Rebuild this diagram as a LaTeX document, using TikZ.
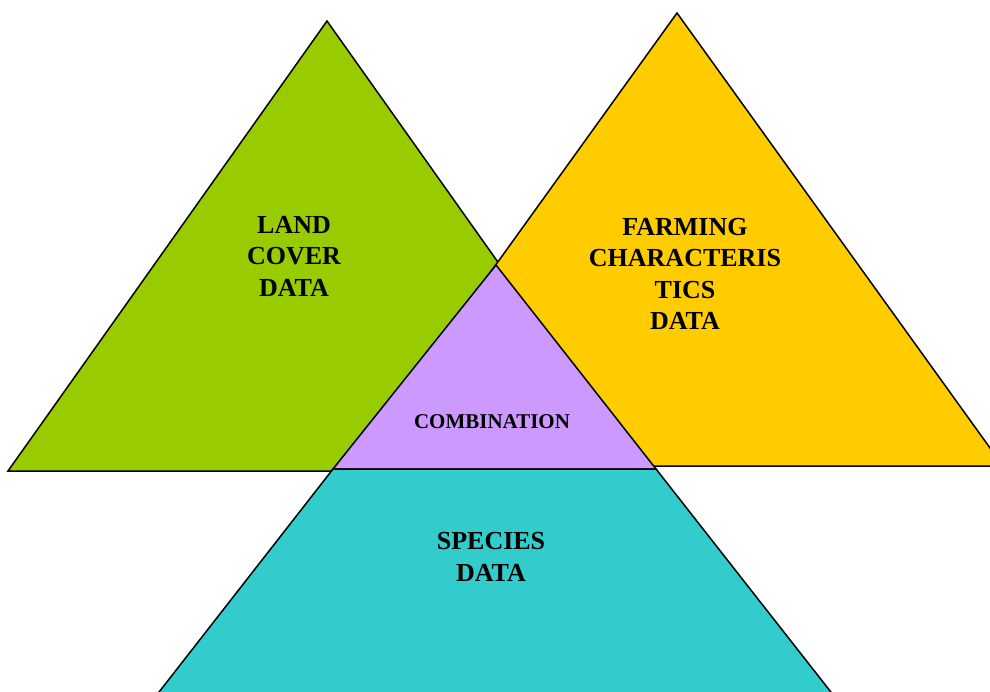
\documentclass[tikz,border=0pt]{standalone}
\usepackage{fontspec}
\setmainfont{Liberation Serif}
\usepackage{xcolor}
\definecolor{colorLand}{HTML}{99CC00}
\definecolor{colorFarm}{HTML}{FFCC00}
\definecolor{colorComb}{HTML}{CC99FF}
\definecolor{colorSpecies}{HTML}{33CCCC}
\usepackage{tikz}
\tikzset{label big/.style={align=center, inner sep=0pt, font=\fontsize{26}{31.5}\selectfont\bfseries}}

\begin{document}
\begin{tikzpicture}[x=1pt, y=-1pt, line width=1.5pt, line join=miter]
\useasboundingbox (0,0) rectangle (990,692);
\clip (0,0) rectangle (990,692);
\filldraw[fill=colorLand] (327,21) -- (8,471) -- (646,471) -- cycle;
\filldraw[fill=colorFarm] (677,13) -- (351,466) -- (1003,466) -- cycle;
\filldraw[fill=colorComb] (496,265) -- (333,469) -- (656,469) -- cycle;
\filldraw[fill=colorSpecies] (333,469) -- (656,469) -- (845,710) -- (145,710) -- cycle;
\node[label big] (land) at (294,256) {LAND\\COVER\\DATA};
\node[label big] (farm) at (685,274) {FARMING\\CHARACTERIS\\TICS\\DATA};
\node[label big, font=\fontsize{21}{25}\selectfont\bfseries] (comb) at (492,422) {COMBINATION};
\node[label big] (species) at (491,557) {SPECIES\\DATA};
\end{tikzpicture}
\end{document}
